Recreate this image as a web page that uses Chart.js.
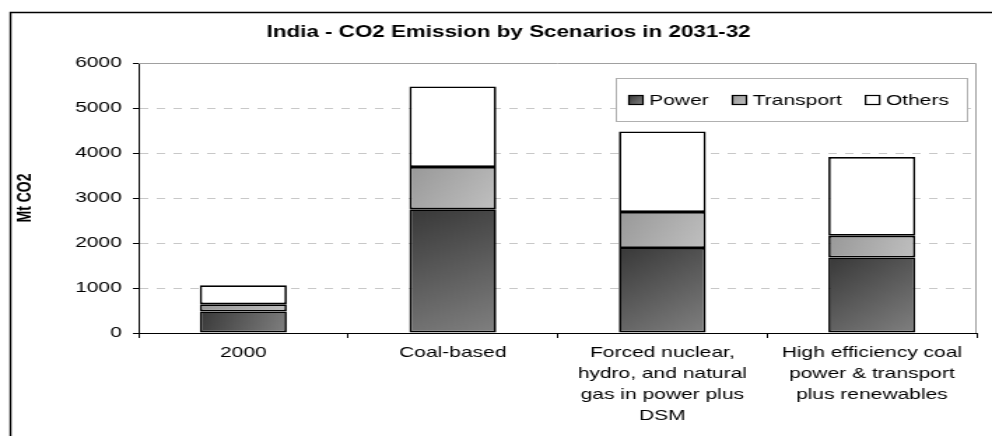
<!DOCTYPE html>
<html>
<head>
<meta charset="utf-8">
<script src="https://cdn.jsdelivr.net/npm/chart.js@4"></script>
<style>
  html, body { margin: 0; padding: 0; background: #fff; overflow: hidden; }
  /* the reference is stretched sideways, so the chart is drawn narrow and widened */
  #wrap { width: 709px; height: 436px; transform: scaleX(1.39915); transform-origin: 0 0; }
  #chart { display: block; }
</style>
</head>
<body>
<div id="wrap"><canvas id="chart" width="709" height="436"></canvas></div>
<script>
const categories = [
  '2000',
  'Coal-based',
  ['Forced nuclear,', 'hydro, and natural', 'gas in power plus', 'DSM'],
  ['High efficiency coal', 'power & transport', 'plus renewables']
];
const power = [480, 2750, 1890, 1680];
const transport = [160, 940, 800, 480];
const others = [420, 1790, 1790, 1750];
const yTicks = [0, 1000, 2000, 3000, 4000, 5000, 6000];

const FONT = "'Liberation Sans', Arial, sans-serif";
const barPct = 0.415;

function barFill(dark, light) {
  return (ctx) => {
    const chart = ctx.chart;
    const xs = chart.scales.x, ys = chart.scales.y;
    if (!chart.chartArea || !xs || !ys || ctx.dataIndex === undefined) return dark;
    let base = 0;
    for (let i = 0; i < ctx.datasetIndex; i++) base += chart.data.datasets[i].data[ctx.dataIndex];
    const top = base + chart.data.datasets[ctx.datasetIndex].data[ctx.dataIndex];
    const cx = xs.getPixelForValue(ctx.dataIndex);
    const half = xs.width / categories.length * barPct / 2;
    const g = chart.ctx.createLinearGradient(cx - half, ys.getPixelForValue(top), cx + half, ys.getPixelForValue(base));
    g.addColorStop(0, dark);
    g.addColorStop(1, light);
    return g;
  };
}

const fills = [['#383838', '#808080'], ['#989898', '#c0c0c0'], ['#ffffff', '#ffffff']];

const frame = {
  id: 'frame',
  beforeDatasetsDraw(chart) {
    const {ctx, chartArea: a} = chart;
    ctx.save();
    ctx.strokeStyle = '#a0a0a0';
    ctx.lineWidth = 1;
    ctx.beginPath();
    ctx.moveTo(a.left, a.top + 0.5);
    ctx.lineTo(a.right - 0.5, a.top + 0.5);
    ctx.lineTo(a.right - 0.5, a.bottom);
    ctx.stroke();
    ctx.restore();
  },
  afterDraw(chart) {
    const ctx = chart.ctx;
    ctx.save();
    // outer box
    ctx.strokeStyle = '#000';
    ctx.lineWidth = 1.4;
    ctx.beginPath();
    ctx.moveTo(7.5, 440);
    ctx.lineTo(7.5, 12.5);
    ctx.lineTo(715, 12.5);
    ctx.stroke();
    // title
    ctx.fillStyle = '#000';
    ctx.font = 'bold 16px ' + FONT;
    ctx.textAlign = 'center';
    ctx.textBaseline = 'middle';
    ctx.fillText('India - CO2 Emission by Scenarios in 2031-32', 363.5, 33);
    // legend
    const box = {left: 440.5, top: 78.5, right: 691.5, bottom: 121.5};
    ctx.fillStyle = '#fff';
    ctx.fillRect(box.left, box.top, box.right - box.left, box.bottom - box.top);
    ctx.strokeStyle = '#b0b0b0';
    ctx.lineWidth = 1;
    ctx.strokeRect(box.left, box.top, box.right - box.left, box.bottom - box.top);
    ctx.font = '15px ' + FONT;
    ctx.textAlign = 'left';
    let x = box.left + 9;
    const cy = (box.top + box.bottom) / 2;
    chart.data.datasets.forEach((ds, i) => {
      const g = ctx.createLinearGradient(x, cy - 4.5, x + 10, cy + 4.5);
      g.addColorStop(0, fills[i][0]);
      g.addColorStop(1, fills[i][1]);
      ctx.fillStyle = g;
      ctx.fillRect(x, cy - 4.5, 10, 9);
      ctx.strokeStyle = '#000';
      ctx.lineWidth = 1.2;
      ctx.strokeRect(x, cy - 4.5, 10, 9);
      ctx.fillStyle = '#000';
      ctx.fillText(ds.label, x + 14.5, cy + 1);
      x += 14.5 + ctx.measureText(ds.label).width + 17;
    });
    ctx.restore();
  }
};

const data = {
  labels: categories,
  datasets: [
    {label: 'Power', data: power, backgroundColor: barFill(...fills[0])},
    {label: 'Transport', data: transport, backgroundColor: barFill(...fills[1])},
    {label: 'Others', data: others, backgroundColor: '#ffffff'}
  ].map(d => Object.assign(d, {
    borderColor: '#000',
    borderWidth: 1.7,
    borderSkipped: false,
    categoryPercentage: 1,
    barPercentage: barPct
  }))
};

const config = {
  type: 'bar',
  data: data,
  options: {
    responsive: false,
    animation: false,
    devicePixelRatio: 1,
    layout: {padding: {top: 63, right: 11, bottom: 0, left: 0}},
    plugins: {
      legend: {display: false},
      tooltip: {enabled: false},
      title: {display: false}
    },
    scales: {
      x: {
        stacked: true,
        afterFit: (s) => { s.height = 103; },
        grid: {drawOnChartArea: false, tickLength: 5, tickColor: '#000', offset: true},
        border: {color: '#000', width: 1},
        ticks: {
          color: '#000',
          font: {family: FONT, size: 15, lineHeight: 1.4},
          padding: 4,
          maxRotation: 0,
          autoSkip: false
        }
      },
      y: {
        stacked: true,
        min: 0,
        max: 6000,
        afterFit: (s) => { s.width = 99; },
        afterBuildTicks: (s) => { s.ticks = yTicks.map(v => ({value: v})); },
        grid: {
          color: (c) => (c.tick && (c.tick.value === 0 || c.tick.value === 6000)) ? 'rgba(0,0,0,0)' : '#c8c8c8',
          tickColor: '#000',
          tickLength: 4,
          lineWidth: 1
        },
        border: {color: '#000', width: 1, dash: [6, 6]},
        ticks: {
          color: '#000',
          font: {family: FONT, size: 15},
          padding: 8,
          callback: (v) => String(v)
        },
        title: {
          display: true,
          text: 'Mt CO2',
          color: '#000',
          font: {family: FONT, size: 14, weight: 'bold'},
          padding: {top: 10, bottom: 0}
        }
      }
    }
  },
  plugins: [frame]
};

const chart = new Chart(document.getElementById('chart'), config);
</script>
</body>
</html>
